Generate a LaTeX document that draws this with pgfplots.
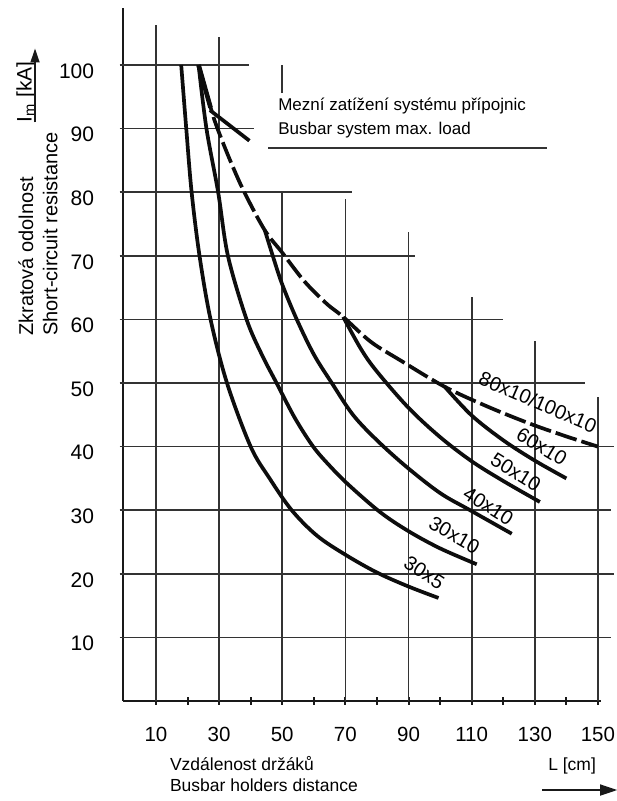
\documentclass[border=0pt]{standalone}
\usepackage{pgfplots}
\pgfplotsset{compat=1.18}
\usepackage{fontspec}
\setmainfont{Liberation Sans}
\usetikzlibrary{arrows.meta}
\newcommand{\fs}[1]{\fontsize{#1}{1.2\dimexpr#1\relax}\selectfont}
\begin{document}
\begin{tikzpicture}
\path[use as bounding box] (-122.8bp,-100bp) rectangle (494.2bp,701bp);
\begin{axis}[
 at={(0,0)}, anchor=south west,
 scale only axis, width=478.3bp, height=693.2bp,
 xmin=-0.5, xmax=151, ymin=0, ymax=109,
 axis lines=left, axis line style={-, line width=2.6bp, color=black!90},
 clip=false,
 xtick={10,30,...,150}, minor xtick={20,40,...,140},
 ytick={10,20,...,100},
 tick align=center, major tick length=8bp, minor tick length=8bp,
 x tick style={line width=2bp, black!90},
 minor x tick style={line width=2bp, black!90},
 y tick style={draw=none},
 /pgf/number format/assume math mode=true,
 xticklabel style={font=\fs{20.5bp}, anchor=north, inner sep=0pt, yshift=-22bp},
 yticklabel style={font=\fs{21bp}, anchor=east, inner sep=0pt, xshift=-24.5bp, yshift=-6bp},
]
% staircase grid: horizontal
\pgfplotsset{gridl/.style={black!80, line width=1.7bp, forget plot}}
\addplot[gridl] coordinates {(-1.5,100) (39.5,100)};
\addplot[gridl] coordinates {(-1.5,90) (41,90)};
\addplot[gridl] coordinates {(-1.5,80) (72,80)};
\addplot[gridl] coordinates {(-1.5,70) (92,70)};
\addplot[gridl] coordinates {(-1.5,60) (120,60)};
\addplot[gridl] coordinates {(-1.5,50) (146,50)};
\addplot[gridl] coordinates {(-1.5,40) (155,40)};
\addplot[gridl] coordinates {(-1.5,30) (154,30)};
\addplot[gridl] coordinates {(-1.5,20) (155,20)};
\addplot[gridl] coordinates {(-1.5,10) (154,10)};
% vertical
\addplot[gridl] coordinates {(10,0) (10,106.3)};
\addplot[gridl] coordinates {(30,0) (30,104.4)};
\addplot[gridl] coordinates {(50,0) (50,80)};
\addplot[gridl] coordinates {(50,95.6) (50,100)};
\addplot[gridl] coordinates {(70,0) (70,79)};
\addplot[gridl] coordinates {(90,0) (90,73.7)};
\addplot[gridl] coordinates {(110,0) (110,63.5)};
\addplot[gridl] coordinates {(130,0) (130,56.6)};
\addplot[gridl] coordinates {(150,0) (150,47.8)};
% annotation underline
\addplot[gridl] coordinates {(45.5,86.9) (134,86.9)};

\pgfplotsset{curve/.style={black!95, line width=3.7bp, smooth, tension=0.55, forget plot}}
% 30x5
\addplot[curve] coordinates {(18,100) (19.6,90) (21.3,80) (23.8,70) (27.3,60) (32.5,50) (40,40) (46,35) (53,30) (61,26) (70,23) (80,20.2) (90,18) (99.5,16.2)};
% 30x10
\addplot[curve] coordinates {(23.5,100) (26,90) (29.7,80) (32.8,70) (38.7,60) (43.5,54.5) (48.2,50) (54,44.5) (59.8,40) (65,37) (71,34) (81,29.7) (90,26.7) (100,24) (111.6,21.5)};
% 40x10
\addplot[curve] coordinates {(44.5,74) (47,70) (50,65.5) (54.6,60) (60,54.5) (65.7,50) (72.4,45) (80,41) (89.4,36.8) (100,32.7) (109.5,30) (122.7,26.3)};
% 50x10
\addplot[curve] coordinates {(69.3,60.4) (75,55.3) (80,51.8) (90,46.1) (100,41.5) (110,37.7) (120,34.6) (131.6,31.3)};
% 60x10
\addplot[curve] coordinates {(101.5,49.4) (110,44.9) (120,41) (130,37.8) (140,35)};
% max load (dashed)
\addplot[curve, dash pattern=on 22bp off 5bp] coordinates {(23.5,100) (27.5,93) (29.5,90) (33.5,85) (38,80) (44.5,74) (50,70.5) (57,66) (64,62.5) (69.3,60.4) (78,56.5) (87.3,53.6) (101.5,49.4) (115,46.3) (128.5,43.6) (140,41.6) (150,40)};
\addplot[curve, line width=4.6bp] coordinates {(23.5,100) (27.3,93.3)};
\addplot[curve] coordinates {(27.1,92.9) (39.6,88.1)};

% curve labels
\node[rotate=-23.5, font=\fs{20bp}] at (131.0,47.0) {80x10/100x10};
\node[rotate=-31, font=\fs{20bp}] at (132.2,40.0) {60x10};
\node[rotate=-32, font=\fs{20bp}] at (124.0,36.0) {50x10};
\node[rotate=-32, font=\fs{20bp}] at (115.3,30.7) {40x10};
\node[rotate=-30, font=\fs{20bp}] at (104.5,26.1) {30x10};
\node[rotate=-33, font=\fs{20bp}] at (95.0,20.2) {30x5};

% annotation
\node[anchor=base west, inner sep=0pt, font=\fs{17bp}] at (48.7,92.9) {Mezní zatížení systému přípojnic};
\node[anchor=base west, inner sep=0pt, font=\fs{17bp}] at (48.7,89.0) {Busbar system max. load};

% x label
\node[anchor=base west, inner sep=0pt, font=\fs{17.5bp}] at (14.4,-10.85) {Vzdálenost držáků};
\node[anchor=base west, inner sep=0pt, font=\fs{17.5bp}] at (14.4,-14.3) {Busbar holders distance};
\node[anchor=base west, inner sep=0pt, font=\fs{17.5bp}] at (134.2,-10.85) {L [cm]};
\addplot[black!90, line width=1.6bp, -{Triangle[length=17bp,width=11bp]}, forget plot] coordinates {(132.3,-14) (156.1,-14)};

% y label
\node[rotate=90, anchor=base west, inner sep=0pt, font=\fs{20bp}] at (-28.9,57.4) {Zkratová odolnost};
\node[rotate=90, anchor=base west, inner sep=0pt, font=\fs{20bp}] at (-21.2,57.4) {Short-circuit resistance};
\node[rotate=90, anchor=base west, inner sep=0pt, font=\fs{21bp}] at (-29.4,91.0) {I\textsubscript{m} [kA]};
\addplot[black!90, line width=1.6bp, -{Triangle[length=14bp,width=9bp]}, forget plot] coordinates {(-28.3,91) (-28.3,102.6)};
\end{axis}
\end{tikzpicture}
\end{document}
